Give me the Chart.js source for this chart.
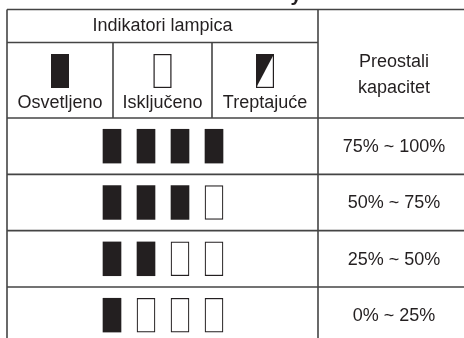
<!DOCTYPE html>
<html>
<head>
<meta charset="utf-8">
<script src="https://cdn.jsdelivr.net/npm/chart.js@4"></script>
<style>
  html, body { margin: 0; padding: 0; background: #fff; }
  canvas { display: block; }
</style>
</head>
<body>
<canvas id="chart" width="464" height="338"></canvas>
<script>
// table content
const headerTitle = 'Indikatori lampica';
const capacityTitle = ['Preostali', 'kapacitet'];
const lampStates = ['Osvetljeno', 'Isključeno', 'Treptajuće'];
const capacityLabels = ['75% ~ 100%', '50% ~ 75%', '25% ~ 50%', '0% ~ 25%'];
const litLamps = [4, 3, 2, 1];
const lampCount = 4;

const ink = '#231f20';
const lineColor = '#444';
const font = '18px "Liberation Sans", Arial, sans-serif';

// layout (pixels)
const W = 464, H = 338;
const rowTop = 118, rowPitch = 56.33;
const lampStart = 112, lampPitch = 34;
const frame = { left: 7, top: 9.5, head: 42.5, cols: [113, 212], valueCol: 318, right: 470 };

// build lamp bars from the data
const litData = [], offData = [];
litLamps.forEach((n, row) => {
  for (let k = 0; k < lampCount; k++) {
    const bar = { x: k, y: [row + 0.2, row + 0.8] };
    (k < n ? litData : offData).push(bar);
  }
});

const tablePlugin = {
  id: 'table',
  afterDraw(chart) {
    const ctx = chart.ctx;
    const y = chart.scales.y;
    ctx.save();

    // bit of the cut-off heading above the table
    ctx.fillStyle = ink;
    ctx.font = 'bold 20px "Liberation Sans", Arial, sans-serif';
    ctx.textAlign = 'center';
    ctx.textBaseline = 'alphabetic';
    ctx.fillText('y', 296, 1);

    ctx.strokeStyle = lineColor;
    ctx.lineWidth = 1.6;
    const line = (x1, y1, x2, y2) => {
      ctx.beginPath(); ctx.moveTo(x1, y1); ctx.lineTo(x2, y2); ctx.stroke();
    };
    line(frame.left, frame.top, frame.right, frame.top);
    line(frame.left, frame.top, frame.left, H + 2);
    line(frame.valueCol, frame.top, frame.valueCol, H + 2);
    line(frame.left, frame.head, frame.valueCol, frame.head);
    const headBottom = y.getPixelForValue(0);
    frame.cols.forEach(cx => line(cx, frame.head, cx, headBottom));
    capacityLabels.forEach((_, i) => {
      const py = y.getPixelForValue(i);
      line(frame.left, py, frame.right, py);
    });

    ctx.fillStyle = ink;
    ctx.font = font;
    ctx.textAlign = 'center';
    ctx.textBaseline = 'middle';
    ctx.fillText(headerTitle, (frame.left + frame.valueCol) / 2, 26);

    const valueX = 394;
    ctx.fillText(capacityTitle[0], valueX, 62);
    ctx.fillText(capacityTitle[1], valueX, 88);
    capacityLabels.forEach((lab, i) => {
      ctx.fillText(lab, valueX, y.getPixelForValue(i + 0.5) + 1);
    });

    // legend of lamp states
    const edges = [frame.left, ...frame.cols, frame.valueCol];
    lampStates.forEach((lab, i) => {
      const cx = (edges[i] + edges[i + 1]) / 2;
      ctx.fillStyle = ink;
      ctx.fillText(lab, cx, 103);
      const bx = cx - 9, by = 54, bw = 18, bh = 34;
      ctx.lineWidth = 1.2;
      ctx.strokeStyle = ink;
      if (i === 0) {
        ctx.fillRect(bx, by, bw, bh);
      } else {
        ctx.fillStyle = '#fff';
        ctx.fillRect(bx, by, bw, bh);
        if (i === 2) {
          ctx.fillStyle = ink;
          ctx.beginPath();
          ctx.moveTo(bx, by); ctx.lineTo(bx + bw, by); ctx.lineTo(bx, by + bh);
          ctx.closePath(); ctx.fill();
        }
        ctx.strokeRect(bx + 0.6, by + 0.6, bw - 1.2, bh - 1.2);
      }
    });
    ctx.restore();
  }
};

new Chart(document.getElementById('chart'), {
  type: 'bar',
  data: {
    datasets: [{
      label: 'Osvetljeno',
      data: litData,
      backgroundColor: ink,
      borderWidth: 0
    }, {
      label: 'Isključeno',
      data: offData,
      backgroundColor: '#fff',
      borderColor: ink,
      borderWidth: 1.2,
      borderSkipped: false
    }]
  },
  options: {
    responsive: false,
    animation: false,
    layout: { padding: 0 },
    datasets: { bar: { grouped: false, barThickness: 18 } },
    scales: {
      x: {
        type: 'linear',
        display: false,
        offset: false,
        min: -lampStart / lampPitch,
        max: (W - lampStart) / lampPitch
      },
      y: {
        display: false,
        reverse: true,
        min: -rowTop / rowPitch,
        max: (H - rowTop) / rowPitch
      }
    },
    plugins: {
      legend: { display: false },
      tooltip: { enabled: false }
    }
  },
  plugins: [tablePlugin]
});
</script>
</body>
</html>
